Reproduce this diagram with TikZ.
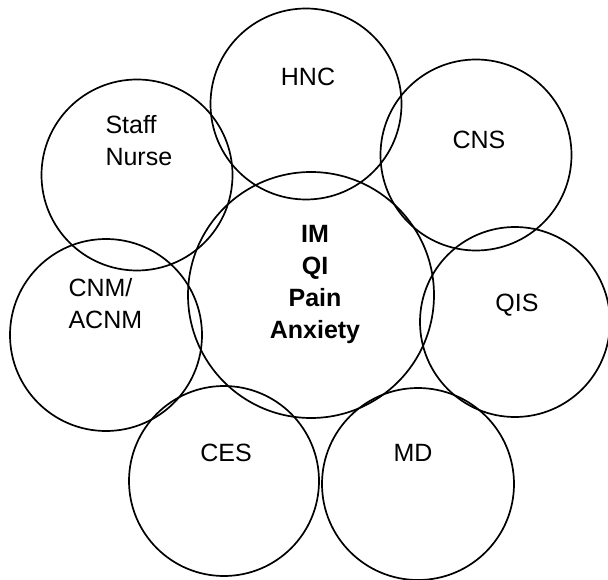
\documentclass[tikz,border=0pt]{standalone}
\usepackage{fontspec}
\setmainfont{Liberation Sans}
\begin{document}
\begin{tikzpicture}[x=1pt,y=-1pt,
  ring/.style={draw=black,line width=1.7pt,circle,inner sep=0pt},
  lbl/.style={font=\fontsize{25}{32}\selectfont,align=center},
  lbll/.style={font=\fontsize{25}{32}\selectfont,align=left}]
\useasboundingbox (0,0) rectangle (608,580);
\node[ring,minimum size=191pt] (hnc) at (306,104) {};
\node[ring,minimum size=191pt] (sn) at (137,175) {};
\node[ring,minimum size=191pt] (cns) at (476,155) {};
\node[ring,minimum size=246pt] (core) at (311,295) {};
\node[ring,minimum size=192pt] (cnm) at (106,335) {};
\node[ring,minimum size=190pt] (qis) at (515,322) {};
\node[ring,minimum size=190pt] (ces) at (224,481) {};
\node[ring,minimum size=192pt] (md) at (418,484) {};
\node[lbl] (thnc) at (308,77) {HNC};
\node[lbl] (tcns) at (479,140) {CNS};
\node[lbll,anchor=west] (tsn) at (102,141) {Staff\\Nurse};
\node[lbll,anchor=west] (tcnm) at (65,304) {CNM/\\ACNM};
\node[lbl] (tqis) at (517,305) {QIS};
\node[lbl] (tces) at (226,453) {CES};
\node[lbl] (tmd) at (413,453) {MD};
\node[lbl,font=\fontsize{25}{32}\selectfont\bfseries] (tcore) at (315,284) {IM\\QI\\Pain\\Anxiety};
\end{tikzpicture}
\end{document}
